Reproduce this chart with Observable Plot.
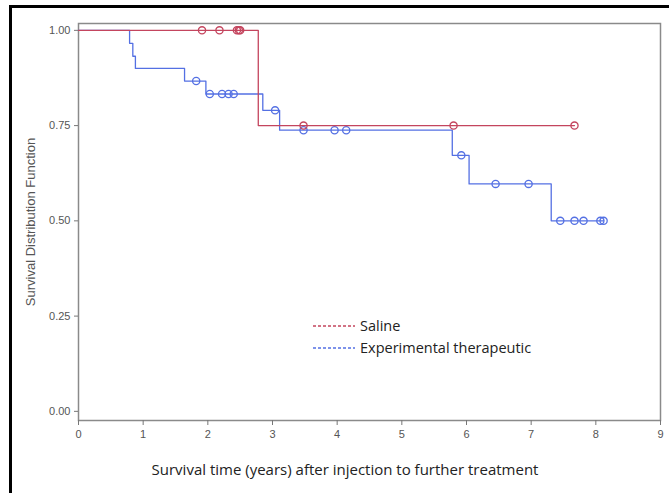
<!DOCTYPE html>
<html>
<head>
<meta charset="utf-8">
<script src="https://cdn.jsdelivr.net/npm/d3@7"></script>
<script src="https://cdn.jsdelivr.net/npm/@observablehq/plot@0.6"></script>
<style>
  html, body { margin: 0; padding: 0; background: #fff; }
  #wrap { position: relative; width: 669px; height: 493px; overflow: hidden; }
  #border { position: absolute; left: 9px; top: 5px; right: -10px; bottom: -10px;
            border-top: 3px solid #000; border-left: 3px solid #000; }
  #xtitle { position: absolute; left: 345px; top: 459px; transform: translateX(-50%);
            font-family: "Open Sans", sans-serif; font-size: 15px; color: #222; white-space: nowrap; }
  .leg { position: absolute; left: 313px; font-family: "Open Sans", sans-serif; font-size: 14.5px;
         color: #222; white-space: nowrap; display: flex; align-items: center; }
  .leg svg { margin-right: 5px; }
</style>
</head>
<body>
<div id="wrap">
  <div id="chart"></div>
  <div id="border"></div>
  <div id="xtitle"></div>
  <div id="legend"></div>
</div>
<script>
// ---- data ----
const groups = ["Saline", "Experimental therapeutic"];
const groupColors = ["#c4455e", "#5470e3"];

const salineStepTimes = [0, 2.78, 7.67];
const salineStepSurv  = [1.0, 0.75, 0.75];
const salineCensorTimes = [1.91, 2.18, 2.45, 2.48, 2.50, 3.48, 5.80, 7.67];
const salineCensorSurv  = [1.0, 1.0, 1.0, 1.0, 1.0, 0.75, 0.75, 0.75];

const expStepTimes = [0, 0.79, 0.84, 0.88, 1.64, 1.97, 2.85, 3.11, 5.78, 6.04, 7.31, 8.12];
const expStepSurv  = [1.0, 0.966, 0.932, 0.90, 0.867, 0.833, 0.79, 0.738, 0.672, 0.597, 0.50, 0.50];
const expCensorTimes = [1.82, 2.03, 2.22, 2.32, 2.40, 3.04, 3.48, 3.96, 4.14, 5.92, 6.45, 6.96, 7.45, 7.67, 7.81, 8.07, 8.12];
const expCensorSurv  = [0.867, 0.833, 0.833, 0.833, 0.833, 0.79, 0.738, 0.738, 0.738, 0.672, 0.597, 0.597, 0.50, 0.50, 0.50, 0.50, 0.50];

const xTicks = [0, 1, 2, 3, 4, 5, 6, 7, 8, 9];
const yTicks = [0, 0.25, 0.5, 0.75, 1.0];
const xTitle = "Survival time (years) after injection to further treatment";
const yTitle = "Survival Distribution Function";

// ---- build tables ----
const salineSteps = salineStepTimes.map((t, i) => ({t, s: salineStepSurv[i]}));
const expSteps = expStepTimes.map((t, i) => ({t, s: expStepSurv[i]}));
const salineCens = salineCensorTimes.map((t, i) => ({t, s: salineCensorSurv[i]}));
const expCens = expCensorTimes.map((t, i) => ({t, s: expCensorSurv[i]}));

const tickFont = {fontSize: 11, fontFamily: "'Liberation Sans', Arial, sans-serif"};

const chart = Plot.plot({
  width: 669,
  height: 493,
  marginLeft: 78,
  marginRight: 9,
  marginTop: 23,
  marginBottom: 73,
  style: {fontFamily: "'Liberation Sans', Arial, sans-serif", fontSize: "11px", background: "transparent"},
  x: {domain: [0, 9]},
  y: {domain: [-0.024, 1.018]},
  marks: [
    Plot.frame({stroke: "#8a8a8a", strokeWidth: 1.5}),
    Plot.axisX({ticks: xTicks, tickFormat: d => d3.format("d")(d), tickSize: 5, tickPadding: 5,
                stroke: "#777", color: "#555", label: null, ...tickFont}),
    Plot.axisY({ticks: yTicks, tickFormat: d3.format(".2f"), tickSize: 4, tickPadding: 4,
                stroke: "#777", color: "#555", label: null, ...tickFont}),
    Plot.axisY({ticks: [], tickSize: 0, label: yTitle, labelAnchor: "center",
                labelArrow: "none", labelOffset: 53, fontSize: 13, color: "#555",
                fontFamily: "'Liberation Sans', Arial, sans-serif"}),
    Plot.line(expSteps, {x: "t", y: "s", curve: "step-after", stroke: groupColors[1], strokeWidth: 1.3}),
    Plot.dot(expCens, {x: "t", y: "s", r: 3.6, stroke: groupColors[1], strokeWidth: 1.3, fill: "none"}),
    Plot.line(salineSteps, {x: "t", y: "s", curve: "step-after", stroke: groupColors[0], strokeWidth: 1.3}),
    Plot.dot(salineCens, {x: "t", y: "s", r: 3.6, stroke: groupColors[0], strokeWidth: 1.3, fill: "none"})
  ]
});
document.getElementById("chart").appendChild(chart);
document.getElementById("xtitle").textContent = xTitle;

const legend = document.getElementById("legend");
const legendTops = [316, 338];
const svgNS = "http://www.w3.org/2000/svg";
groups.forEach((g, i) => {
  const row = document.createElement("div");
  row.className = "leg";
  row.style.top = legendTops[i] + "px";
  const svg = document.createElementNS(svgNS, "svg");
  svg.setAttribute("width", "42");
  svg.setAttribute("height", "4");
  const ln = document.createElementNS(svgNS, "line");
  ln.setAttribute("x1", "0"); ln.setAttribute("x2", "42");
  ln.setAttribute("y1", "2"); ln.setAttribute("y2", "2");
  ln.setAttribute("stroke", groupColors[i]);
  ln.setAttribute("stroke-width", "1.3");
  ln.setAttribute("stroke-dasharray", "3,2");
  svg.appendChild(ln);
  row.appendChild(svg);
  const t = document.createElement("span");
  t.textContent = g;
  row.appendChild(t);
  legend.appendChild(row);
});
</script>
</body>
</html>
